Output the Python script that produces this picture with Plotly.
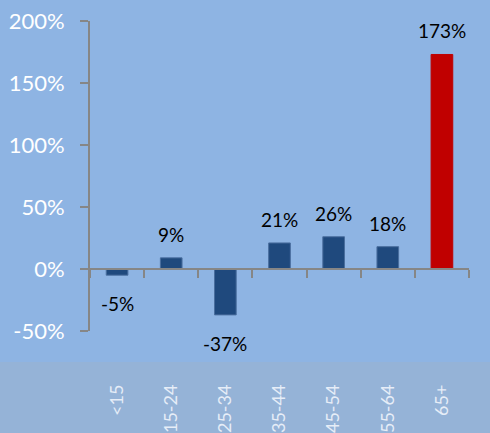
import plotly.graph_objects as go

categories = ["<15", "15-24", "25-34", "35-44", "45-54", "55-64", "65+"]
values = [-5, 9, -37, 21, 26, 18, 173]
bar_colors = ["#1F497D", "#1F497D", "#1F497D", "#1F497D", "#1F497D", "#1F497D", "#C00000"]
line_colors = ["#4A6E9E", "#4A6E9E", "#4A6E9E", "#4A6E9E", "#4A6E9E", "#4A6E9E", "#C00000"]
y_ticks = [-50, 0, 50, 100, 150, 200]
y_tick_labels = ["-50%", "0%", "50%", "100%", "150%", "200%"]

BG = "#8EB4E3"
BAND = "#95B3D7"
AXIS = "#868686"
FONT = "Lato"

ymin, ymax = -50, 200

fig = go.Figure()
fig.add_trace(go.Bar(
    x=categories, y=values, width=0.4,
    marker=dict(color=bar_colors, line=dict(color=line_colors, width=1)),
    hoverinfo="skip", showlegend=False,
))
# invisible helper trace for the zero-line axis
fig.add_trace(go.Scatter(x=[-0.5, len(categories) - 0.5], y=[0, 0], xaxis="x2",
                         mode="lines", line=dict(width=0), hoverinfo="skip",
                         showlegend=False))

annotations = []
for c, v in zip(categories, values):
    annotations.append(dict(
        x=c, y=v, xref="x", yref="y", text=f"{v}%", showarrow=False,
        yanchor="bottom" if v >= 0 else "top",
        yshift=10 if v >= 0 else -15,
        font=dict(family=FONT, size=19, color="#000000"),
    ))

fig.update_layout(
    width=490, height=433,
    margin=dict(l=90, r=21, t=21, b=102, autoexpand=False),
    paper_bgcolor=BG, plot_bgcolor=BG,
    font=dict(family=FONT),
    annotations=annotations,
    shapes=[dict(type="rect", xref="paper", yref="paper",
                 x0=-1, x1=2, y0=-1, y1=-31 / 310,
                 fillcolor=BAND, line=dict(width=0), layer="below")],
    bargap=0.6,
    xaxis=dict(
        type="category", range=[-0.5, len(categories) - 0.5],
        showline=False, showgrid=False, zeroline=False, ticks="",
        tickangle=-90, ticklabelstandoff=49, automargin=False,
        tickfont=dict(family=FONT, size=18, color="#E6EDF7"),
    ),
    xaxis2=dict(
        overlaying="x", anchor="free", position=(0 - ymin) / (ymax - ymin),
        range=[-0.5, len(categories) - 0.5],
        tickvals=[i - 0.5 for i in range(len(categories) + 1)],
        showticklabels=False, showline=True, linecolor=AXIS, linewidth=2,
        ticks="outside", ticklen=8, tickwidth=2, tickcolor=AXIS,
        showgrid=False, zeroline=False, automargin=False,
    ),
    yaxis=dict(
        range=[ymin, ymax], tickvals=y_ticks, ticktext=y_tick_labels,
        showline=True, linecolor=AXIS, linewidth=2,
        ticks="outside", ticklen=8, tickwidth=2, tickcolor=AXIS,
        showgrid=False, zeroline=False, ticklabelstandoff=11, automargin=False,
        tickfont=dict(family=FONT, size=22, color="#FFFFFF"),
    ),
)

fig.write_html(
    "out.html",
    config={"displayModeBar": False},
    post_script="document.body.style.margin='0';document.body.style.background='" + BAND + "';",
)
